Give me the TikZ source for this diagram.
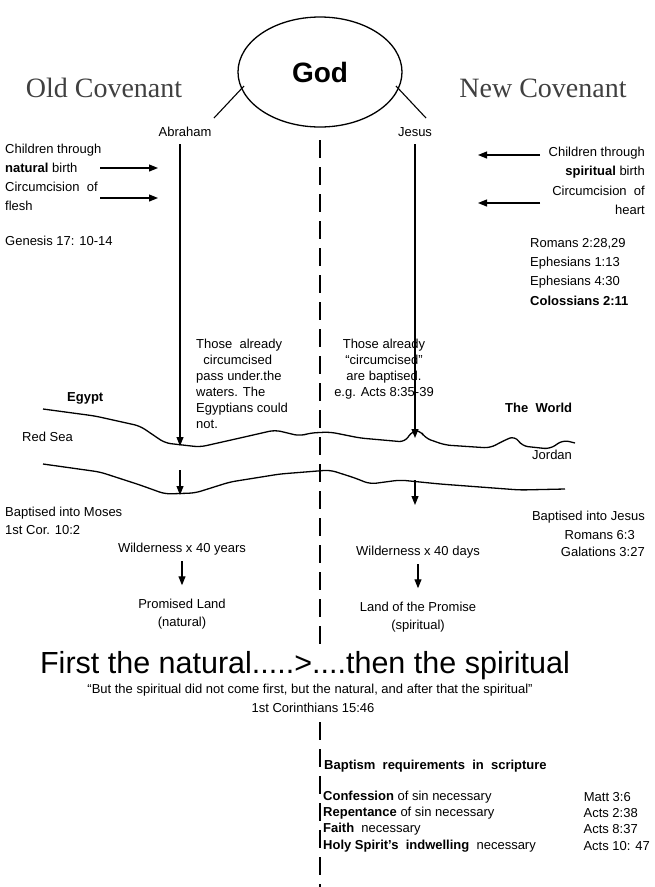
\documentclass[tikz,border=0pt]{standalone}
\usepackage{fontspec}
\setmainfont{Liberation Sans}
\newfontfamily\serifx{Liberation Serif}
\usetikzlibrary{arrows.meta,shapes.geometric}
\begin{document}
\begin{tikzpicture}[x=1pt,y=-1pt,
  t/.style={font=\fontsize{13}{14}\selectfont,inner sep=0pt},
  tl/.style={t,anchor=west,align=left},
  tr/.style={t,anchor=east,align=right},
  tc/.style={t,anchor=center,align=center},
  arr/.style={-{Triangle[length=9pt,width=7pt]},line width=1.1pt},
  dsh/.style={line width=1.1pt,dash pattern=on 18pt off 9pt},
  wave/.style={line width=1.3pt,rounded corners=6pt}]
\useasboundingbox (0,0) rectangle (654,887);
\node[draw,ellipse,line width=1.3pt,minimum width=164pt,minimum height=110pt] (god) at (320,72) {};
\node[font=\fontsize{28}{32}\selectfont\bfseries] at (320,72) {God};
\node[font=\serifx\fontsize{28}{32}\selectfont,text=black!75] (oc) at (104,88) {Old Covenant};
\node[font=\serifx\fontsize{28}{32}\selectfont,text=black!75] (nc) at (543,88) {New Covenant};
\node[tc] (ab) at (185,132) {Abraham};
\node[tc] (je) at (415,132) {Jesus};
\coordinate (gl) at (244,86); \coordinate (gr) at (396,86);
\draw[line width=1.1pt] (gl) -- (214,118);
\draw[line width=1.1pt] (gr) -- (426,118);
% dashed line
\coordinate (d1) at (320,140); \coordinate (d2) at (320,652);
\coordinate (d3) at (320,722); \coordinate (d4) at (320,887);
\draw[dsh] (d1) -- (d2);
\draw[dsh] (d3) -- (d4);
% main arrows
\coordinate (la) at (180,144); \coordinate (lae) at (180,446);
\coordinate (ra) at (415,144); \coordinate (rae) at (415,438);
\draw[arr] (la) -- (lae);
\draw[arr] (ra) -- (rae);
% left texts
\node[tl] (c1) at (5,158) {Children through\\[5pt]\textbf{natural} birth};
\node[tl] (c2) at (5,196) {Circumcision\ \ of\\[5pt]flesh};
\node[tl] (g) at (5,241) {Genesis 17: 10-14};
\draw[arr] (100,168) -- (158,168);
\draw[arr] (100,198) -- (158,198);
% right texts
\node[tr] (c3) at (645,163) {Children through\\[5pt]\textbf{spiritual} birth};
\node[tr] (c4) at (645,200) {Circumcision\ \ of\\[5pt]heart};
\draw[arr] (540,155) -- (478,155);
\draw[arr] (540,203) -- (478,203);
\node[tl] (ro) at (530,244) {Romans 2:28,29};
\node[tl] at (530,263) {Ephesians 1:13};
\node[tl] at (530,282) {Ephesians 4:30};
\node[tl] at (530,301) {\textbf{Colossians 2:11}};
% middle texts
\node[t,anchor=north west,align=left] at (196,339) {Those\ \ already\\[2pt]\ \ circumcised\\[2pt]pass under.the\\[2pt]waters. The\\[2pt]Egyptians could\\[2pt]not.};
\node[t,anchor=north,align=center] at (384,339) {Those already\\[2pt]``circumcised''\\[2pt]are baptised.\\[2pt]e.g. Acts 8:35-39};
\node[tl] at (67,398) {\textbf{Egypt}};
\node[tl] at (505,408) {\textbf{The\ \ World}};
\node[tl] at (22,437) {Red Sea};
\node[tl] at (532,455) {Jordan};
% waves
\draw[wave] (43,409) -- (95,416) -- (140,426) -- (165,443) -- (200,447) -- (240,438) -- (275,430) -- (300,436) -- (310,433) -- (330,432) -- (360,438) -- (405,442) -- (412,431) -- (420,430) -- (425,438) -- (445,445) -- (490,448) -- (505,440) -- (515,436) -- (522,446) -- (550,449) -- (563,440) -- (575,443);
\draw[wave] (43,464) -- (100,472) -- (140,485) -- (165,494) -- (195,493) -- (230,482) -- (280,474) -- (330,470) -- (355,478) -- (370,484) -- (400,480) -- (440,484) -- (480,487) -- (520,490) -- (565,489);
% below
\draw[arr] (180,470) -- (180,495);
\draw[arr] (415,480) -- (415,505);
\node[tl] at (5,513) {Baptised into Moses};
\node[tl] at (5,530) {1st Cor. 10:2};
\node[tr] at (645,517) {Baptised into Jesus};
\node[tr] at (635,535) {Romans 6:3};
\node[tr] at (645,552) {Galations 3:27};
\node[tc] (w1) at (182,549) {Wilderness x 40 years};
\node[tc] (p1) at (182,614) {Promised Land\\[4pt](natural)};
\draw[arr] (w1.south) ++(0,6) -- ++(0,24);
\node[tc] (w2) at (418,552) {Wilderness x 40 days};
\node[tc] (p2) at (418,617) {Land of the Promise\\[4pt](spiritual)};
\draw[arr] (w2.south) ++(0,6) -- ++(0,24);
% bottom
\node[font=\fontsize{30.5}{33}\selectfont] (ft) at (305,666) {First the natural.....>....then the spiritual};
\node[font=\fontsize{13}{14}\selectfont,inner sep=0pt] at (310,690) {``But the spiritual did not come first, but the natural, and after that the spiritual''};
\node[t] at (313,708) {1st Corinthians 15:46};
\node[tl] at (324,766) {\textbf{Baptism\ \ requirements\ \ in\ \ scripture}};
\node[tl] at (323,797) {\textbf{Confession} of sin necessary};
\node[tl] at (323,813) {\textbf{Repentance} of sin necessary};
\node[tl] at (323,829) {\textbf{Faith}\ \ necessary};
\node[tl] at (323,846) {\textbf{Holy Spirit's\ \ indwelling}\ \ necessary};
\node[tr] at (631,797) {Matt 3:6};
\node[tr] at (638,813) {Acts 2:38};
\node[tr] at (638,829) {Acts 8:37};
\node[tr] at (650,846) {Acts 10: 47};
\end{tikzpicture}
\end{document}
